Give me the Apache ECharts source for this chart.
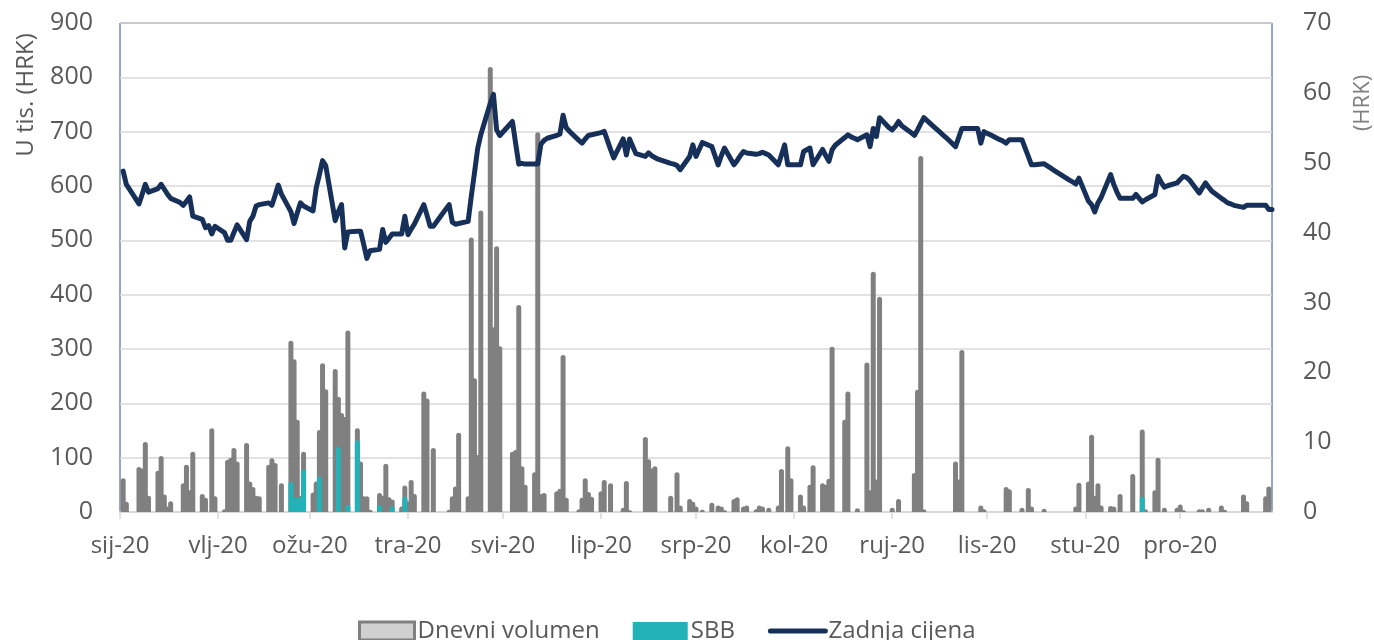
<!DOCTYPE html>
<html>
<head>
<meta charset="utf-8">
<title>Dnevni volumen i zadnja cijena</title>
<script src="https://cdn.jsdelivr.net/npm/echarts@6/dist/echarts.min.js"></script>
<style>
  html, body { margin: 0; padding: 0; background: #fff; }
  #chart { width: 1374px; height: 640px; }
</style>
</head>
<body>
<div id="chart"></div>
<script>
// nazivi mjeseci za os x
const monthNames = ['sij', 'vlj', 'ožu', 'tra', 'svi', 'lip', 'srp', 'kol', 'ruj', 'lis', 'stu', 'pro'];

// dnevni volumen (u tis. HRK)
const volumeDays = [
  '01-02', '01-03', '01-07', '01-08', '01-09', '01-10', '01-13', '01-14', '01-15', '01-16', '01-17',
  '01-21', '01-22', '01-23', '01-24', '01-27', '01-28', '01-30', '01-31',
  '02-03', '02-04', '02-05', '02-06', '02-07', '02-10', '02-11', '02-12', '02-13', '02-14',
  '02-17', '02-18', '02-19', '02-21', '02-24', '02-25', '02-26', '02-27', '02-28',
  '03-02', '03-03', '03-04', '03-05', '03-06', '03-09', '03-10', '03-11', '03-12', '03-13',
  '03-16', '03-17', '03-18', '03-19', '03-20', '03-23', '03-24', '03-25', '03-26', '03-27', '03-30', '03-31',
  '04-01', '04-02', '04-03', '04-06', '04-07', '04-09', '04-14', '04-15', '04-16', '04-17',
  '04-20', '04-21', '04-22', '04-23', '04-24', '04-27', '04-28', '04-29', '04-30',
  '05-04', '05-05', '05-06', '05-07', '05-08', '05-11', '05-12', '05-13', '05-14',
  '05-18', '05-19', '05-20', '05-21', '05-25', '05-26', '05-27', '05-28', '05-29',
  '06-01', '06-02', '06-04', '06-08', '06-09', '06-10', '06-15', '06-16', '06-17', '06-18',
  '06-23', '06-25', '06-26', '06-29', '06-30',
  '07-01', '07-03', '07-06', '07-08', '07-09', '07-10', '07-13', '07-14', '07-16', '07-17',
  '07-20', '07-21', '07-22', '07-24', '07-27', '07-28', '07-30', '07-31',
  '08-03', '08-04', '08-06', '08-07', '08-10', '08-11', '08-12', '08-13', '08-17', '08-18', '08-21',
  '08-24', '08-25', '08-26', '08-27', '08-28',
  '09-01', '09-03', '09-08', '09-09', '09-10', '09-11', '09-21', '09-22', '09-23', '09-29', '09-30',
  '10-07', '10-08', '10-12', '10-14', '10-15', '10-19', '10-29', '10-30',
  '11-02', '11-03', '11-04', '11-05', '11-06', '11-09', '11-10', '11-12', '11-16', '11-19', '11-20',
  '11-23', '11-24', '11-26', '11-30',
  '12-01', '12-02', '12-07', '12-08', '12-10', '12-14', '12-15', '12-21', '12-22', '12-28', '12-29'
];
const volumeValues = [
  62, 19, 83, 80, 129, 30, 76, 103, 32, 10, 20,
  53, 87, 40, 111, 33, 26, 154, 29,
  5, 96, 100, 118, 93, 127, 56, 46, 30, 29,
  87, 99, 90, 53, 315, 281, 170, 30, 111,
  36, 56, 151, 274, 226, 263, 212, 182, 175, 334,
  154, 93, 29, 29, 4, 35, 30, 89, 27, 23, 10, 49,
  20, 59, 33, 222, 209, 118, 4, 29, 47, 146,
  29, 505, 246, 105, 555, 819, 340, 489, 305,
  111, 114, 381, 84, 50, 73, 699, 33, 35,
  38, 43, 289, 26, 5, 26, 62, 37, 28,
  38, 59, 53, 8, 57, 3, 138, 97, 80, 84,
  30, 73, 12, 24, 19,
  10, 4, 17, 12, 10, 3, 24, 27, 10, 12,
  5, 12, 10, 8, 12, 79, 121, 62,
  32, 12, 50, 86, 53, 50, 61, 304, 170, 222, 7,
  275, 40, 442, 60, 396,
  8, 24, 72, 225, 655, 5, 93, 60, 298, 12, 5,
  46, 42, 8, 44, 10, 6, 10, 54,
  56, 142, 30, 53, 12, 11, 10, 33, 70, 152, 5,
  40, 100, 8, 8,
  14, 3, 5, 5, 8, 12, 4, 32, 20, 29, 47
];

// SBB (u tis. HRK)
const sbbDays = ['02-24', '02-25', '02-26', '02-27', '02-28', '03-04', '03-10', '03-13', '03-16', '03-23', '03-27', '03-31', '11-19'];
const sbbValues = [55, 26, 26, 26, 78, 65, 120, 13, 132, 13, 10, 28, 28];

// zadnja cijena (HRK)
const priceDays = [
  '01-02', '01-03', '01-07', '01-08', '01-09', '01-10', '01-13', '01-14', '01-15', '01-16', '01-17',
  '01-20', '01-21', '01-22', '01-23', '01-24', '01-27', '01-28', '01-29', '01-30', '01-31',
  '02-03', '02-04', '02-05', '02-06', '02-07', '02-10', '02-11', '02-12', '02-13', '02-14',
  '02-17', '02-18', '02-19', '02-20', '02-21', '02-24', '02-25', '02-26', '02-27', '02-28',
  '03-02', '03-03', '03-04', '03-05', '03-06', '03-09', '03-10', '03-11', '03-12', '03-13',
  '03-16', '03-17', '03-18', '03-19', '03-20', '03-23', '03-24', '03-25', '03-26', '03-27', '03-30', '03-31',
  '04-01', '04-02', '04-03', '04-06', '04-07', '04-08', '04-09', '04-14', '04-15', '04-16', '04-17',
  '04-20', '04-21', '04-22', '04-23', '04-24', '04-27', '04-28', '04-29', '04-30',
  '05-04', '05-05', '05-06', '05-07', '05-08', '05-11', '05-12', '05-13', '05-14', '05-15',
  '05-18', '05-19', '05-20', '05-21', '05-22', '05-25', '05-26', '05-27', '05-28', '05-29',
  '06-01', '06-02', '06-03', '06-04', '06-05', '06-08', '06-09', '06-10', '06-12',
  '06-15', '06-16', '06-17', '06-18', '06-19', '06-23', '06-24', '06-25', '06-26', '06-29', '06-30',
  '07-01', '07-02', '07-03', '07-06', '07-07', '07-08', '07-09', '07-10', '07-13', '07-14', '07-15', '07-16', '07-17',
  '07-20', '07-21', '07-22', '07-23', '07-24', '07-27', '07-28', '07-29', '07-30', '07-31',
  '08-03', '08-04', '08-06', '08-07', '08-10', '08-11', '08-12', '08-13', '08-14',
  '08-17', '08-18', '08-19', '08-20', '08-21', '08-24', '08-25', '08-26', '08-27', '08-28', '08-31',
  '09-01', '09-02', '09-03', '09-04', '09-07', '09-08', '09-09', '09-10', '09-11',
  '09-14', '09-15', '09-16', '09-17', '09-18', '09-21', '09-22', '09-23', '09-24', '09-25', '09-28', '09-29', '09-30',
  '10-01', '10-02', '10-05', '10-06', '10-07', '10-08', '10-09', '10-12', '10-13', '10-14', '10-15', '10-16',
  '10-19', '10-20', '10-21', '10-22', '10-23', '10-26', '10-27', '10-28', '10-29', '10-30',
  '11-02', '11-03', '11-04', '11-05', '11-06', '11-09', '11-10', '11-11', '11-12', '11-13',
  '11-16', '11-17', '11-19', '11-20', '11-23', '11-24', '11-25', '11-26', '11-27', '11-30',
  '12-01', '12-02', '12-03', '12-04', '12-07', '12-08', '12-09', '12-10', '12-11',
  '12-14', '12-15', '12-16', '12-17', '12-18', '12-21', '12-22', '12-23', '12-28', '12-29', '12-30'
];
const priceValues = [
  48.8, 46.9, 44.1, 45.5, 46.9, 45.8, 46.3, 46.9, 46.2, 45.5, 44.9,
  44.3, 43.9, 44.5, 45.1, 42.35, 41.9, 40.7, 41.0, 39.8, 40.9,
  40.0, 38.9, 38.9, 40.0, 41.1, 39.0, 41.6, 42.35, 43.8, 44.0,
  44.25, 43.9, 45.3, 46.8, 45.5, 43.0, 41.3, 42.8, 44.25, 43.8,
  43.1, 46.4, 48.3, 50.3, 49.6, 41.7, 43.0, 44.0, 37.8, 40.1,
  40.2, 40.2, 38.3, 36.3, 37.4, 37.6, 40.45, 38.6, 39.2, 39.8, 39.8, 42.35,
  39.7, 40.5, 41.2, 44.0, 42.5, 40.9, 40.9, 44.0, 41.5, 41.2, 41.3,
  41.6, 45.2, 48.5, 52.0, 54.0, 58.5, 59.8, 54.7, 53.9,
  55.9, 52.8, 49.8, 49.9, 49.8, 49.8, 49.8, 52.65, 53.2, 53.5,
  53.9, 54.1, 56.8, 55.0, 54.5, 53.2, 52.8, 53.4, 53.9, 54.0,
  54.3, 54.5, 53.2, 51.9, 50.7, 53.4, 51.1, 53.4, 51.3,
  50.9, 51.4, 51.0, 50.75, 50.5, 49.9, 49.8, 49.6, 49.0, 50.9, 52.55,
  50.9, 51.9, 52.9, 52.3, 51.0, 49.7, 51.0, 52.1, 49.7, 50.3, 51.0, 51.6, 51.4,
  51.2, 51.3, 51.5, 51.3, 51.1, 49.7, 51.1, 52.55, 49.7, 49.7,
  49.7, 51.6, 52.1, 49.7, 51.9, 51.0, 50.2, 51.85, 52.5,
  53.6, 54.0, 53.7, 53.5, 53.3, 54.0, 52.3, 54.9, 53.75, 56.45, 55.0,
  54.7, 55.2, 55.9, 55.3, 54.3, 53.9, 54.7, 55.6, 56.45,
  55.2, 54.8, 54.4, 54.0, 53.6, 52.3, 53.6, 54.9, 54.9, 54.9, 54.9, 52.8, 54.45,
  54.2, 54.0, 53.3, 53.1, 52.8, 53.3, 53.3, 53.3, 52.1, 50.9, 49.7, 49.7,
  49.85, 49.55, 49.25, 48.95, 48.65, 47.8, 47.5, 47.25, 46.95, 47.8,
  44.5, 44.0, 42.95, 44.25, 45.0, 48.3, 46.9, 45.8, 44.9, 44.9,
  44.9, 45.45, 44.4, 44.7, 45.45, 48.05, 47.2, 46.5, 46.7, 47.1,
  47.6, 48.05, 47.9, 47.5, 45.65, 46.4, 47.1, 46.5, 45.9,
  44.9, 44.6, 44.25, 44.1, 43.9, 43.6, 43.9, 43.9, 43.9, 43.3, 43.3
];

// dan u godini (0 = 1. sijecnja 2020.)
const DAY = 86400000;
const dayOfYear = (mmdd) => {
  const [m, d] = mmdd.split('-').map(Number);
  return (Date.UTC(2020, m - 1, d) - Date.UTC(2020, 0, 1)) / DAY;
};
const volumeData = volumeDays.map((d, i) => [dayOfYear(d), volumeValues[i]]);
const sbbData = sbbDays.map((d, i) => [dayOfYear(d), sbbValues[i]]);
const priceData = priceDays.map((d, i) => [dayOfYear(d), priceValues[i]]);

// pocetak svakog mjeseca - tickovi i oznake
const monthStarts = monthNames.map((m, i) => (Date.UTC(2020, i, 1) - Date.UTC(2020, 0, 1)) / DAY);

const textColor = '#595959';
const fontFamily = '"Open Sans", "Noto Sans", sans-serif';

const myChart = echarts.init(document.getElementById('chart'));
myChart.setOption({
  animation: false,
  textStyle: { fontFamily: fontFamily },
  grid: {
    left: 120,
    right: 102,
    top: 23,
    bottom: 128,
    show: true,
    borderColor: '#2f4b7c',
    borderWidth: 1
  },
  legend: {
    left: 358,
    top: 619,
    padding: 0,
    itemWidth: 55,
    itemHeight: 18,
    itemGap: 33,
    textStyle: { fontSize: 24, color: textColor, fontFamily: fontFamily, padding: [0, 0, 0, -2] },
    data: [
      { name: 'Dnevni volumen', icon: 'rect', itemStyle: { color: '#d0d0d0', borderColor: '#808080', borderWidth: 3 } },
      { name: 'SBB', icon: 'rect' },
      { name: 'Zadnja cijena', itemStyle: { opacity: 0 }, lineStyle: { width: 5, cap: 'round' } }
    ]
  },
  graphic: [
    {
      type: 'text',
      x: 26,
      y: 95,
      rotation: Math.PI / 2,
      style: {
        text: 'U tis. (HRK)',
        font: '24px "Open Sans"',
        fill: textColor,
        align: 'center',
        verticalAlign: 'middle'
      }
    },
    {
      type: 'text',
      x: 1363,
      y: 103,
      rotation: Math.PI / 2,
      style: {
        text: '(HRK)',
        font: '22px "Open Sans"',
        fill: '#7f7f7f',
        align: 'center',
        verticalAlign: 'middle'
      }
    }
  ],
  xAxis: {
    type: 'value',
    min: 0,
    max: 364,
    axisLine: { onZero: false, lineStyle: { color: '#d9d9d9', width: 2 } },
    axisTick: {
      customValues: monthStarts,
      length: 7,
      lineStyle: { color: '#d9d9d9', width: 1.5 }
    },
    axisLabel: {
      customValues: monthStarts,
      formatter: (val) => monthNames[monthStarts.indexOf(val)] + '-20',
      fontSize: 24,
      color: textColor,
      margin: 22
    },
    splitLine: { show: false }
  },
  yAxis: [
    {
      type: 'value',
      min: 0,
      max: 900,
      interval: 100,
      axisLine: { show: false },
      axisTick: { show: false },
      axisLabel: { fontSize: 25, color: textColor, margin: 27 },
      splitLine: { lineStyle: { color: '#d9d9d9', width: 1.5 } }
    },
    {
      type: 'value',
      min: 0,
      max: 70,
      interval: 10,
      axisLine: { show: false },
      axisTick: { show: false },
      axisLabel: { fontSize: 25, color: textColor, margin: 31 },
      splitLine: { show: false }
    }
  ],
  series: [
    {
      name: 'Dnevni volumen',
      type: 'bar',
      yAxisIndex: 0,
      barWidth: 5,
      barGap: '-100%',
      itemStyle: { color: '#808080', borderRadius: [2.5, 2.5, 0, 0] },
      data: volumeData
    },
    {
      name: 'SBB',
      type: 'bar',
      yAxisIndex: 0,
      barWidth: 5,
      barGap: '-100%',
      itemStyle: { color: '#22b2b7', borderRadius: [2.5, 2.5, 0, 0] },
      data: sbbData
    },
    {
      name: 'Zadnja cijena',
      type: 'line',
      yAxisIndex: 1,
      showSymbol: false,
      symbol: 'none',
      z: 5,
      lineStyle: { color: '#17305a', width: 5, join: 'round', cap: 'round' },
      itemStyle: { color: '#17305a' },
      data: priceData
    }
  ]
});
</script>
</body>
</html>
